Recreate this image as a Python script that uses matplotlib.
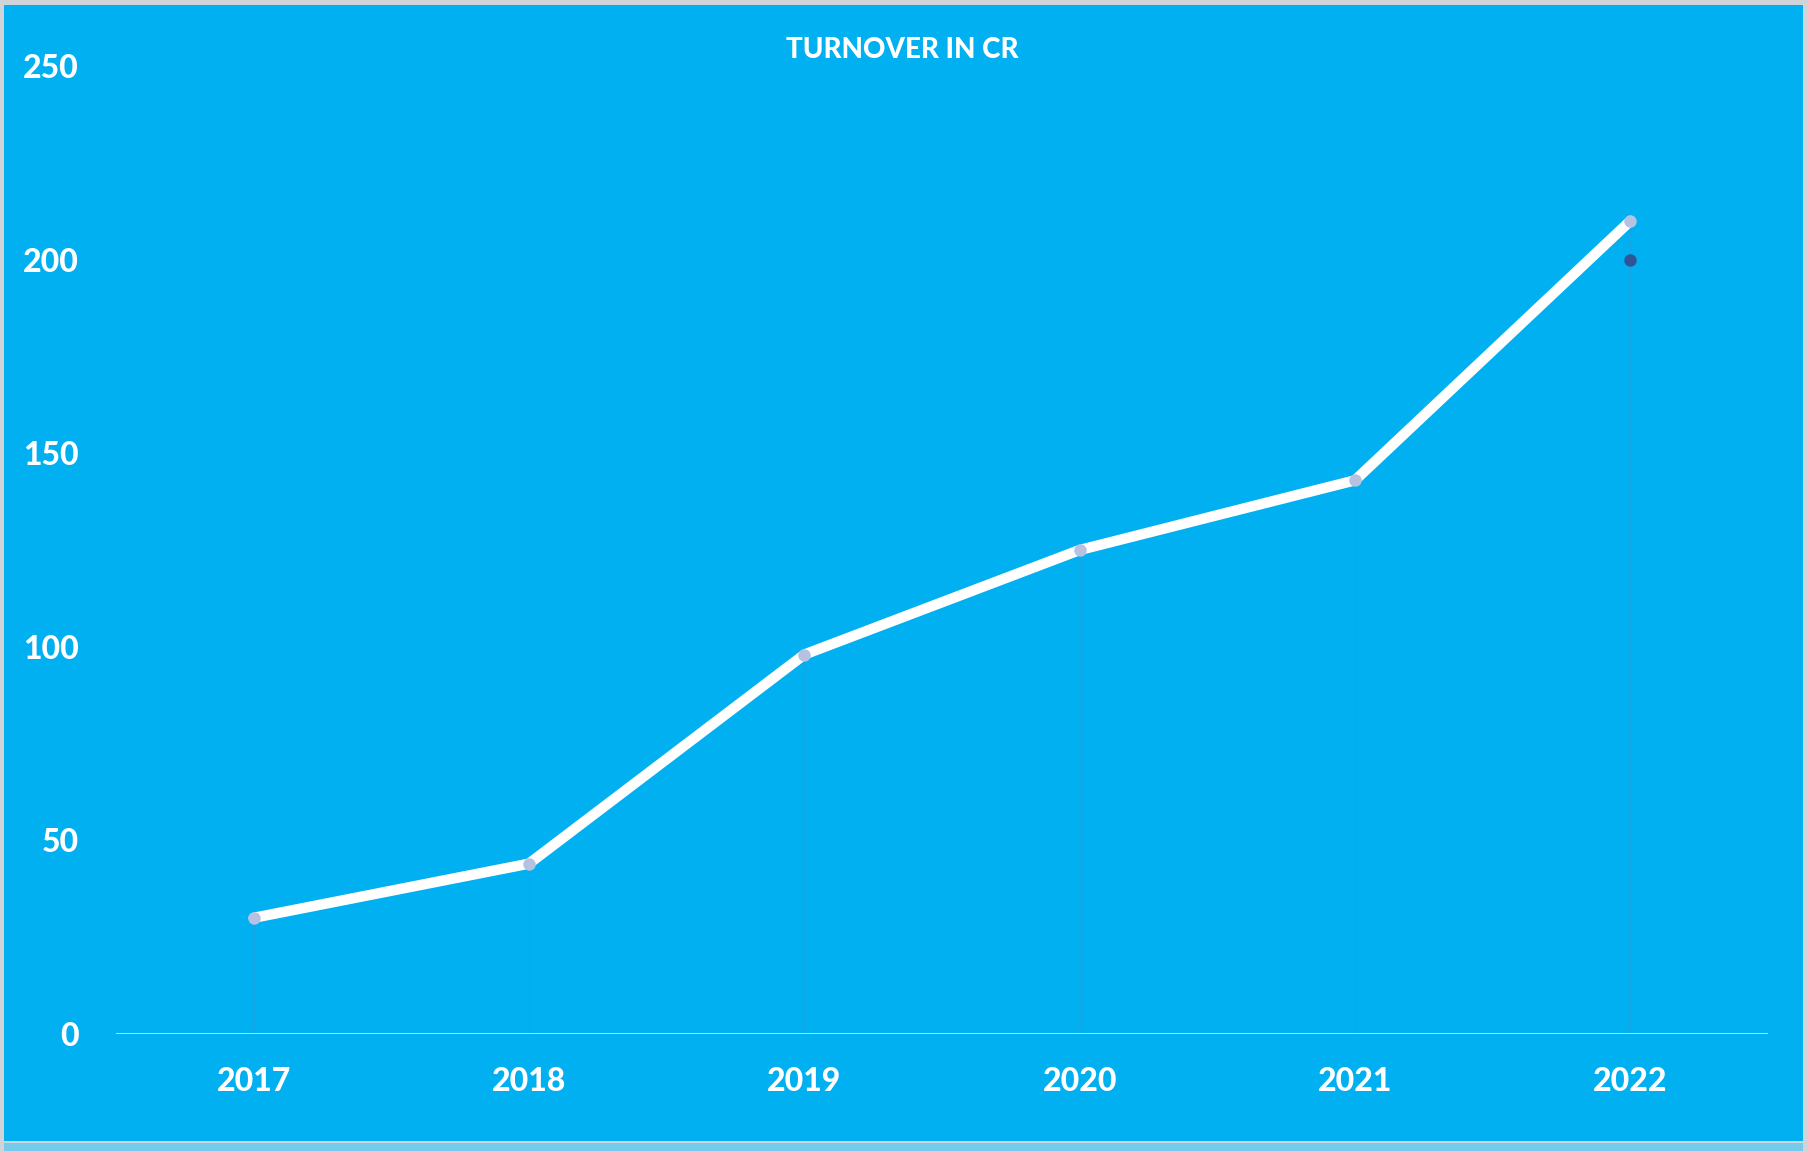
import matplotlib
matplotlib.use("Agg")
import matplotlib.pyplot as plt
from matplotlib.patches import Rectangle

years = ["2017", "2018", "2019", "2020", "2021", "2022"]
turnover = [30, 44, 98, 125, 143, 210]
extra_year = "2022"
extra_value = 200
y_ticks = [0, 50, 100, 150, 200, 250]
title = "TURNOVER IN CR"

W, H = 1808, 1151
fig = plt.figure(figsize=(W / 100, H / 100), dpi=100)
fig.patch.set_facecolor("#FFFFFF")

# background panels
fig.patches.append(Rectangle((0, 0), 1, 1, transform=fig.transFigure,
                             facecolor="#D0D4D8", edgecolor="none", zorder=-3))
fig.patches.append(Rectangle((4 / W, 1 - 1141 / H), (1803 - 4) / W, (1141 - 5) / H,
                             transform=fig.transFigure, facecolor="#00B0F0",
                             edgecolor="none", zorder=-2))
fig.patches.append(Rectangle((4 / W, 0), (1803 - 4) / W, (1151 - 1143) / H,
                             transform=fig.transFigure, facecolor="#75CBEE",
                             edgecolor="none", zorder=-2))

ax = fig.add_axes([116 / W, (H - 1034) / H, (1768 - 116) / W, (1034 - 66) / H])
ax.set_facecolor("none")

x = list(range(len(years)))
font = "Lato"

# drop lines
ax.vlines(x, 0, turnover, colors="#14A6E6", linewidth=0.8, zorder=1)
# baseline
ax.axhline(0, color="#C9D3DB", linewidth=2.2, zorder=2)
# main line
ax.plot(x, turnover, color="white", linewidth=7.5, solid_capstyle="round",
        solid_joinstyle="miter", zorder=3)
ax.plot(x, turnover, linestyle="none", marker="o", markersize=9,
        markerfacecolor="#B7C1E2", markeredgecolor="none", zorder=4)
# extra point
ax.plot([years.index(extra_year)], [extra_value], linestyle="none", marker="o",
        markersize=9, markerfacecolor="#2F5597", markeredgecolor="none", zorder=4)

ax.set_xlim(-0.5, len(years) - 0.5)
ax.set_ylim(0, 250)
ax.set_xticks(x)
ax.set_xticklabels(years)
ax.set_yticks(y_ticks)
ax.set_yticklabels([str(v) for v in y_ticks])
for lab in ax.get_xticklabels() + ax.get_yticklabels():
    lab.set_fontfamily(font)
    lab.set_fontweight("black")
    lab.set_fontsize(23)
    lab.set_color("white")
ax.tick_params(axis="both", length=0)
ax.tick_params(axis="y", pad=27)
ax.tick_params(axis="x", pad=24)
for s in ax.spines.values():
    s.set_visible(False)

fig.text(902 / W, 1 - 50 / H, title, ha="center", va="center", color="white",
         fontsize=20, fontweight="black", fontfamily=font)

fig.savefig("out.png", dpi=100)
